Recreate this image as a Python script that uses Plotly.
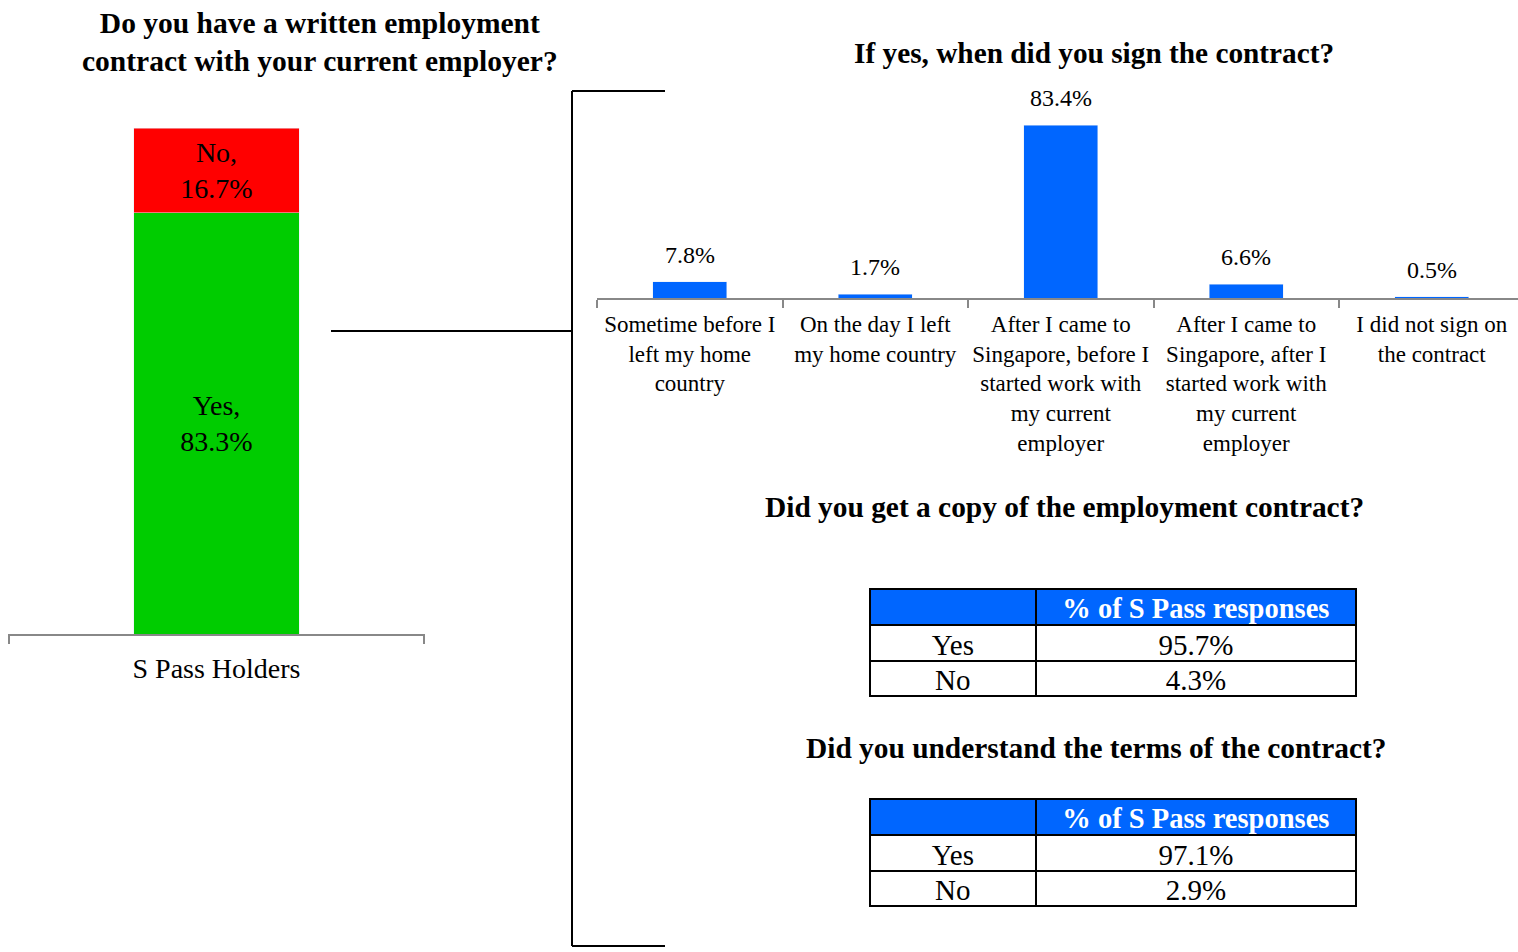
import plotly.graph_objects as go

W, H = 1518, 952
FONT = "Liberation Serif"

# Left chart: written contract share
holder_group = ["S Pass Holders"]
contract_yes = [83.3]
contract_no = [16.7]

# Right chart: when the contract was signed
sign_timing = [
    "Sometime before I<br>left my home<br>country",
    "On the day I left<br>my home country",
    "After I came to<br>Singapore, before I<br>started work with<br>my current<br>employer",
    "After I came to<br>Singapore, after I<br>started work with<br>my current<br>employer",
    "I did not sign on<br>the contract",
]
sign_share = [7.8, 1.7, 83.4, 6.6, 0.5]

# Tables
table_header = ["", "% of S Pass responses"]
answer_rows = ["Yes", "No"]
copy_share = ["95.7%", "4.3%"]
understand_share = ["97.1%", "2.9%"]

BLUE = "#0066FF"
RED = "#FF0000"
GREEN = "#00CC00"
GREY = "#888888"


def px_x(x):
    return x / W


def px_y(y):
    return 1 - y / H


fig = go.Figure()

fig.add_trace(go.Bar(
    x=holder_group, y=contract_yes, marker_color=GREEN, width=0.4,
    text=[f"Yes,<br>{v}%" for v in contract_yes], textposition="inside",
    insidetextanchor="middle", textfont=dict(family=FONT, size=28, color="black"),
    xaxis="x", yaxis="y", showlegend=False,
))
fig.add_trace(go.Bar(
    x=holder_group, y=contract_no, marker_color=RED, width=0.4,
    text=[f"No,<br>{v}%" for v in contract_no], textposition="inside",
    insidetextanchor="middle", textfont=dict(family=FONT, size=28, color="black"),
    xaxis="x", yaxis="y", showlegend=False,
))

fig.add_trace(go.Bar(
    x=sign_timing, y=sign_share, marker_color=BLUE, width=0.4,
    xaxis="x2", yaxis="y2", showlegend=False,
))

table_domains = [
    (copy_share, [px_y(800), px_y(589)]),
    (understand_share, [0, px_y(799)]),
]
for vals, ydom in table_domains:
    fig.add_trace(go.Table(
        domain=dict(x=[px_x(870), px_x(1357)], y=ydom),
        columnwidth=[166, 321],
        header=dict(
            values=table_header, fill_color=BLUE, align="center", height=36,
            line=dict(color="black", width=2),
            font=dict(family=FONT, size=28.5, color="white", weight="bold"),
        ),
        cells=dict(
            values=[answer_rows, vals], fill_color="white", align="center", height=35.5,
            line=dict(color="black", width=2),
            font=dict(family=FONT, size=29, color="black"),
        ),
    ))

annotations = []
for cat, v in zip(sign_timing, sign_share):
    annotations.append(dict(
        x=cat, y=v, xref="x2", yref="y2", text=f"{v}%", showarrow=False,
        yanchor="bottom", yshift=12, font=dict(family=FONT, size=24, color="black"),
    ))

titles = [
    ("<b>Do you have a written employment<br>contract with your current employer?</b>", 320, 42, 29.5),
    ("<b>If yes, when did you sign the contract?</b>", 1094, 53, 29.3),
    ("<b>Did you get a copy of the employment contract?</b>", 1064, 507, 29.4),
    ("<b>Did you understand the terms of the contract?</b>", 1096, 748, 29.4),
]
for txt, x, y, size in titles:
    annotations.append(dict(
        x=px_x(x), y=px_y(y), xref="paper", yref="paper", text=txt, showarrow=False,
        xanchor="center", yanchor="middle", font=dict(family=FONT, size=size, color="black"),
    ))

# Connector bracket between the two charts
bracket = [
    (331, 331, 572, 331),
    (572, 91, 572, 946),
    (572, 91, 665, 91),
    (572, 946, 665, 946),
]
shapes = [
    dict(type="line", xref="paper", yref="paper", x0=px_x(a), y0=px_y(b), x1=px_x(c), y1=px_y(d),
         line=dict(color="black", width=2))
    for a, b, c, d in bracket
]

cat_axis = dict(
    type="category", showline=True, linecolor=GREY, linewidth=2, ticks="outside",
    tickson="boundaries", ticklen=8, tickcolor=GREY, tickwidth=2, showgrid=False,
    zeroline=False, fixedrange=True, tickangle=0,
)

fig.update_layout(
    width=W, height=H, margin=dict(l=0, r=0, t=0, b=0),
    paper_bgcolor="white", plot_bgcolor="white", barmode="stack",
    xaxis=dict(cat_axis, domain=[px_x(8), px_x(425)], range=[-0.5025, 0.5025],
               tickfont=dict(family=FONT, size=28, color="black"), anchor="y",
               ticklabelstandoff=8),
    yaxis=dict(domain=[px_y(634), px_y(128)], range=[0, 100], visible=False, anchor="x"),
    xaxis2=dict(cat_axis, domain=[px_x(597), 1], range=[-0.5, 4.465],
                tickfont=dict(family=FONT, size=23, color="black"), anchor="y2",
                ticklabelstandoff=4),
    yaxis2=dict(domain=[px_y(298), px_y(90.6)], range=[0, 100], visible=False, anchor="x2"),
    annotations=annotations, shapes=shapes,
)

fig.write_html("out.html")
